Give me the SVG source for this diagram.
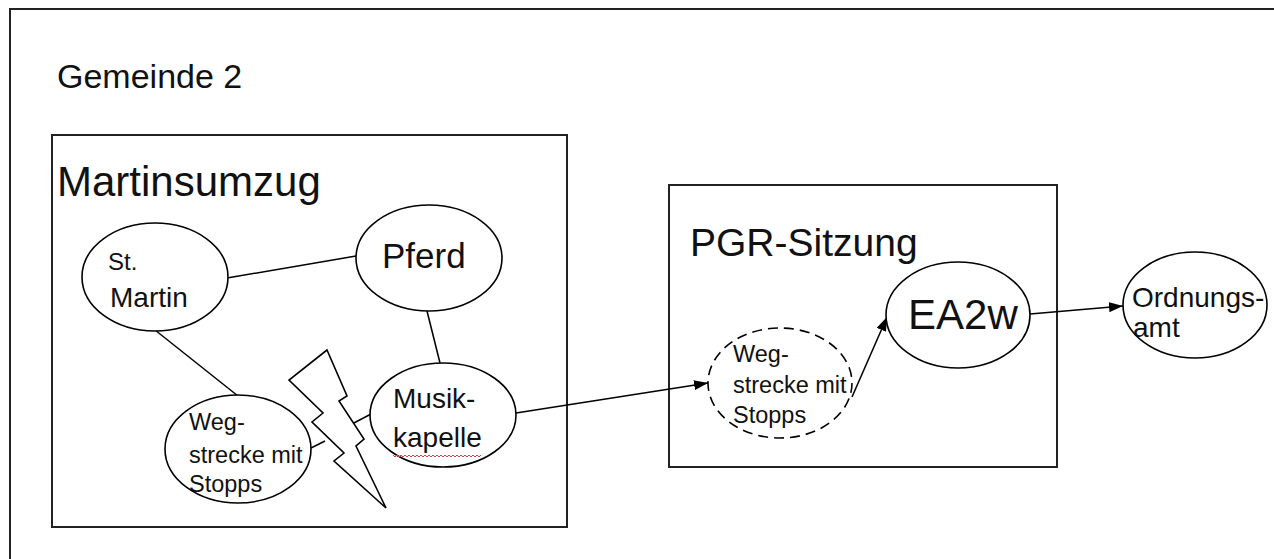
<svg xmlns="http://www.w3.org/2000/svg" width="1274" height="559" viewBox="0 0 1274 559">
<style>
.frame{fill:none;stroke:#222;stroke-width:2}
.node{fill:#fff;stroke:#000;stroke-width:1.6}
.dash{fill:#fff;stroke:#000;stroke-width:1.6;stroke-dasharray:10 6}
.edge{fill:none;stroke:#000;stroke-width:1.5}
text{font-family:"Liberation Sans",Arial,sans-serif;fill:#111}
</style>
<defs>
<marker id="arr" viewBox="0 0 14 10" refX="14" refY="5" markerWidth="14" markerHeight="10" markerUnits="userSpaceOnUse" orient="auto">
<path d="M0,0 L14,5 L0,10 Z" fill="#000"/>
</marker>
</defs>
<rect width="1274" height="559" fill="#fff"/>
<g id="gemeinde">
<rect class="frame" x="10" y="9" width="1290" height="580"/>
<text x="57" y="88" font-size="34">Gemeinde 2</text>
</g>
<g id="martinsumzug">
<rect class="frame" x="52" y="135" width="515" height="392"/>
<text x="57" y="196" font-size="42">Martinsumzug</text>
</g>
<g id="pgr">
<rect class="frame" x="669" y="185" width="388" height="282"/>
<text x="690" y="256" font-size="39">PGR-Sitzung</text>
</g>
<g id="connectors">
<line class="edge" x1="227" y1="278" x2="356" y2="256"/>
<line class="edge" x1="427" y1="311" x2="440" y2="363"/>
<line class="edge" x1="155" y1="330" x2="238" y2="396"/>
<line class="edge" x1="311" y1="448" x2="325" y2="441"/>
<line class="edge" x1="352" y1="424" x2="371" y2="414"/>
<line class="edge" x1="516" y1="413" x2="708" y2="383" marker-end="url(#arr)"/>
<line class="edge" x1="852" y1="397" x2="887" y2="317" marker-end="url(#arr)"/>
<line class="edge" x1="1030" y1="314" x2="1123" y2="306" marker-end="url(#arr)"/>
</g>
<g id="blitz">
<polygon class="node" points="327,350 289,380 323,413 312,422 344,453 334,461 386,508 356,446 364,439 339,401 347,396"/>
</g>
<g id="st-martin">
<ellipse class="node" cx="155" cy="277" rx="73" ry="54"/>
<text x="108" y="270" font-size="24">St.</text>
<text x="110" y="307" font-size="28">Martin</text>
</g>
<g id="pferd">
<ellipse class="node" cx="429" cy="258" rx="73" ry="53"/>
<text x="382" y="268" font-size="35">Pferd</text>
</g>
<g id="musikkapelle">
<ellipse class="node" cx="443" cy="415" rx="73" ry="52"/>
<text x="393" y="408" font-size="28">Musik-</text>
<text x="393" y="447" font-size="28">kapelle</text>
<path d="M393,455 l2,2 l2,-2 l2,2 l2,-2 l2,2 l2,-2 l2,2 l2,-2 l2,2 l2,-2 l2,2 l2,-2 l2,2 l2,-2 l2,2 l2,-2 l2,2 l2,-2 l2,2 l2,-2 l2,2 l2,-2 l2,2 l2,-2 l2,2 l2,-2 l2,2 l2,-2 l2,2 l2,-2 l2,2 l2,-2 l2,2 l2,-2 l2,2 l2,-2 l2,2 l2,-2 l2,2 l2,-2 l2,2 l2,-2 l2,2 l2,-2" fill="none" stroke="#d04050" stroke-width="1"/>
</g>
<g id="wegstrecke-1">
<ellipse class="node" cx="238" cy="449" rx="73" ry="54"/>
<text x="189" y="430" font-size="23.5">Weg-</text>
<text x="189" y="463" font-size="23.5">strecke mit</text>
<text x="189" y="492" font-size="23.5">Stopps</text>
</g>
<g id="wegstrecke-2">
<ellipse class="dash" cx="780" cy="383" rx="72" ry="55"/>
<text x="733" y="362" font-size="23.5">Weg-</text>
<text x="733" y="393" font-size="23.5">strecke mit</text>
<text x="733" y="423" font-size="23.5">Stopps</text>
</g>
<g id="ea2w">
<ellipse class="node" cx="958" cy="315" rx="72" ry="53"/>
<text x="908" y="329" font-size="42">EA2w</text>
</g>
<g id="ordnungsamt">
<ellipse class="node" cx="1195" cy="305" rx="72" ry="53"/>
<text x="1132" y="307" font-size="28">Ordnungs-</text>
<text x="1133" y="337" font-size="28">amt</text>
</g>
</svg>
